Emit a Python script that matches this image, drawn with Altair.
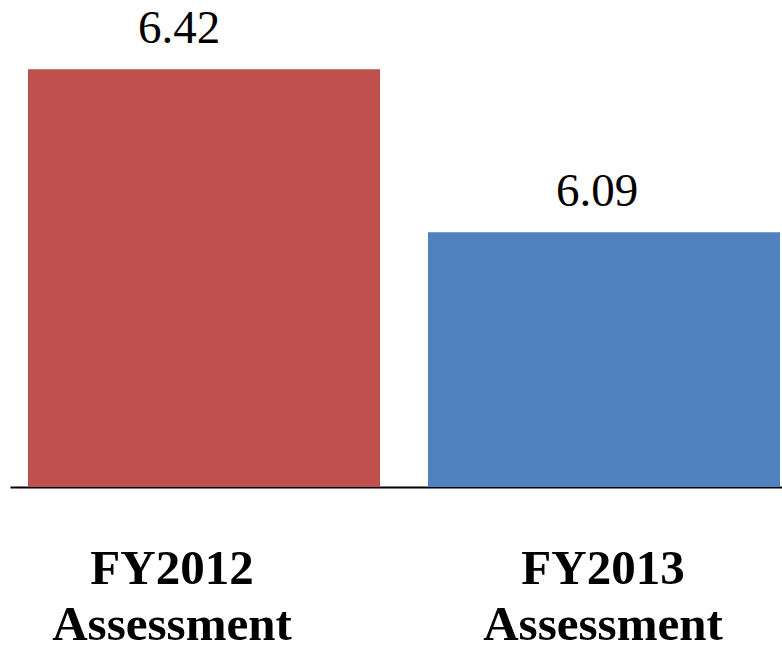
import altair as alt
import pandas as pd

categories = ["FY2012 Assessment", "FY2013 Assessment"]
values = [6.42, 6.09]
colors = ["#C0504D", "#4F81BD"]

y_min = 5.574
y_max = 6.560

# small per-label nudges (style) to mimic the original placement
value_dx = [-25, -7]
cat_dx = [-32, -1]

SERIF = "'Liberation Serif', 'Times New Roman', Times, serif"

df = pd.DataFrame({"cat": categories, "val": values})

x_enc = alt.X(
    "cat:N",
    sort=categories,
    scale=alt.Scale(paddingInner=0.12, paddingOuter=0.025, align=0.9),
    axis=alt.Axis(labels=False, ticks=False, title=None, domainColor="black",
                  domainWidth=2, grid=False),
)
y_enc = alt.Y(
    "val:Q",
    scale=alt.Scale(domain=[y_min, y_max], zero=False, nice=False),
    axis=None,
)

base = alt.Chart(df)

bars = base.mark_bar().encode(
    x=x_enc,
    y=y_enc,
    y2=alt.datum(y_min),
    color=alt.Color("cat:N", scale=alt.Scale(domain=categories, range=colors), legend=None),
)

layers = [bars]
for i, c in enumerate(categories):
    sub = base.transform_filter(alt.datum.cat == c)
    layers.append(
        sub.mark_text(font=SERIF, fontSize=47, color="black",
                      baseline="alphabetic", dy=-26, dx=value_dx[i]).encode(
            x=alt.X("cat:N", sort=categories),
            y="val:Q",
            text=alt.Text("val:Q", format=".2f"),
        )
    )
    layers.append(
        sub.mark_text(font=SERIF, fontSize=49, fontWeight="bold",
                      color="black", baseline="alphabetic", lineBreak=" ",
                      lineHeight=56, dx=cat_dx[i]).encode(
            x=alt.X("cat:N", sort=categories),
            y=alt.value(584),
            text="cat:N",
        )
    )

chart = alt.layer(*layers).properties(
    width=772,
    height=487,
    autosize=alt.AutoSizeParams(type="none"),
    padding={"left": 10, "top": 0, "right": 0, "bottom": 158},
).configure_view(strokeWidth=0)

chart.save("out.html", embed_options={"renderer": "svg", "actions": False})
